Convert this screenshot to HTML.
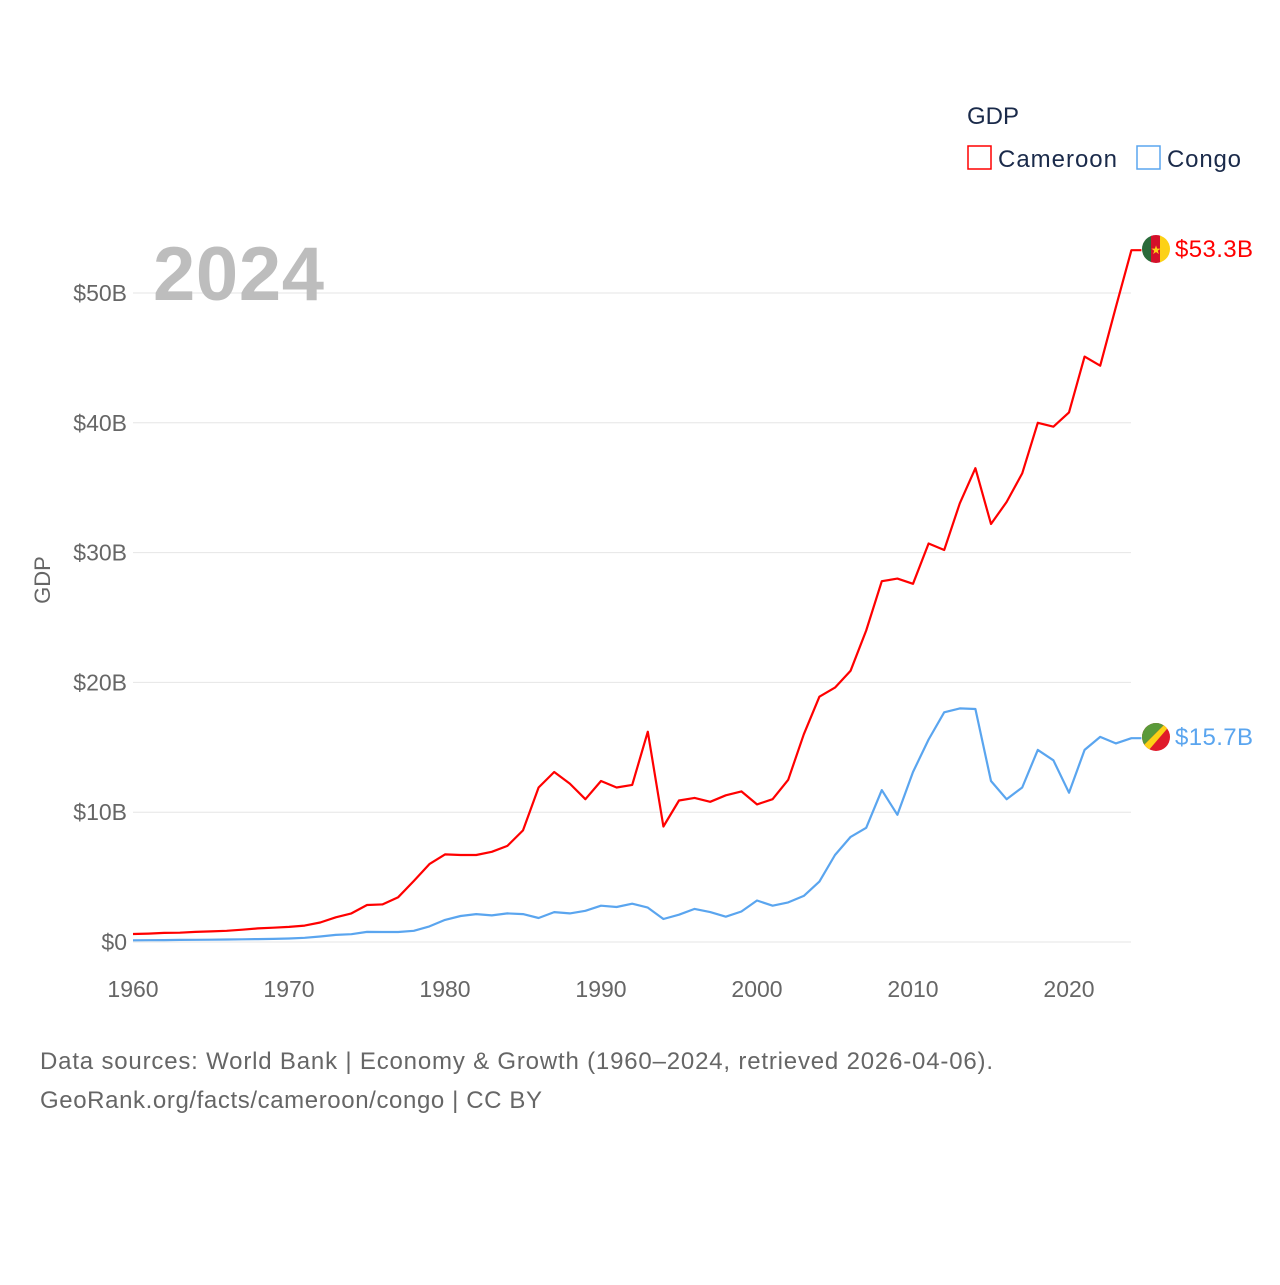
<!DOCTYPE html>
<html><head><meta charset="utf-8"><style>
body{margin:0;background:#fff;font-family:"Liberation Sans",sans-serif}
svg text{font-family:"Liberation Sans",sans-serif}
</style></head><body>
<svg id="chart" width="1280" height="1280" viewBox="0 0 1280 1280">
<rect width="1280" height="1280" fill="#fff"/>
<g id="grid"></g>
<g id="xticks"></g>
<g id="yticks"></g>
<text x="153" y="300" font-size="76" font-weight="bold" fill="#bdbdbd" textLength="171">2024</text>
<text transform="translate(50,580) rotate(-90)" text-anchor="middle" font-size="22" fill="#666">GDP</text>
<g id="series"></g>
<text x="967" y="124" font-size="24" fill="#1a2a4a">GDP</text>
<g>
<rect x="968" y="146" width="23" height="23" fill="none" stroke="#f00" stroke-width="1.5"/>
<text x="998" y="167" font-size="24" fill="#1a2a4a" textLength="119">Cameroon</text></g>
<g>
<rect x="1137" y="146" width="23" height="23" fill="none" stroke="#5aa5ef" stroke-width="1.5"/>
<text x="1167" y="167" font-size="24" fill="#1a2a4a" textLength="74">Congo</text></g>
<g>
<clipPath id="c1"><circle cx="1156" cy="249" r="14"/></clipPath>
<g clip-path="url(#c1)"><rect x="1142" y="235" width="10" height="28" fill="#2a6a3a"/><rect x="1151" y="235" width="10" height="28" fill="#d4102a"/><rect x="1160" y="235" width="10" height="28" fill="#fcd116"/></g>
<text x="1156" y="254" font-size="12" text-anchor="middle" fill="#fcd116">★</text></g>
<g>
<clipPath id="c2"><circle cx="1156" cy="737" r="14"/></clipPath>
<g clip-path="url(#c2)"><rect x="1142" y="723" width="28" height="28" fill="#e01a2a"/><polygon points="1142,723 1166,723 1142,747" fill="#5a9a3a"/><polygon points="1166,723 1172,723 1148,751 1142,751 1142,747" fill="#fcd116"/></g></g>
<text x="1175" y="257" font-size="24" fill="#f00" textLength="78">$53.3B</text>
<text x="1175" y="745" font-size="24" fill="#5aa5ef" textLength="78">$15.7B</text>
<text x="40" y="1069" font-size="24" fill="#666" textLength="953">Data sources: World Bank | Economy &amp; Growth (1960–2024, retrieved 2026-04-06).</text>
<text x="40" y="1108" font-size="24" fill="#666" textLength="502">GeoRank.org/facts/cameroon/congo | CC BY</text>
</svg>
<script>
const years=[];for(let y=1960;y<=2024;y++)years.push(y);
const cameroon=[0.62,0.65,0.7,0.72,0.78,0.82,0.86,0.95,1.05,1.1,1.16,1.26,1.5,1.9,2.2,2.85,2.9,3.45,4.7,6.0,6.75,6.7,6.7,6.95,7.4,8.6,11.9,13.1,12.2,11.0,12.4,11.9,12.1,16.2,8.9,10.9,11.1,10.8,11.3,11.6,10.6,11.0,12.5,16.0,18.9,19.6,20.9,24.0,27.8,28.0,27.6,30.7,30.2,33.8,36.5,32.2,33.9,36.1,40.0,39.7,40.8,45.1,44.4,48.9,53.3];
const congo=[0.13,0.14,0.15,0.16,0.17,0.18,0.19,0.21,0.22,0.24,0.27,0.32,0.42,0.55,0.6,0.78,0.77,0.77,0.86,1.2,1.7,2.0,2.15,2.05,2.2,2.15,1.85,2.3,2.2,2.4,2.8,2.7,2.95,2.65,1.77,2.1,2.55,2.3,1.95,2.35,3.2,2.8,3.05,3.55,4.65,6.7,8.1,8.8,11.7,9.8,13.1,15.6,17.7,18.0,17.95,12.4,11.0,11.9,14.8,14.0,11.5,14.8,15.8,15.3,15.7];
const yTicks=[0,10,20,30,40,50];
const yTickLabels=["$0","$10B","$20B","$30B","$40B","$50B"];
const xTicks=[1960,1970,1980,1990,2000,2010,2020];
const NS="http://www.w3.org/2000/svg";
const X=y=>133+(y-1960)*15.6;
const Y=v=>942-v*12.98;
function mk(t,a,p){const e=document.createElementNS(NS,t);for(const k in a)e.setAttribute(k,a[k]);p.appendChild(e);return e;}
const grid=document.getElementById('grid'),yt=document.getElementById('yticks'),xt=document.getElementById('xticks'),ser=document.getElementById('series');
yTicks.forEach((v,i)=>{
const l=mk('line',{x1:133,x2:1131,y1:Y(v),y2:Y(v),stroke:'#e6e6e6','stroke-width':1},grid);


const t=mk('text',{x:127,y:Y(v)+8,'text-anchor':'end','font-size':23,fill:'#666'},yt);
t.textContent=yTickLabels[i];


});
xTicks.forEach(v=>{
const t=mk('text',{x:X(v),y:997,'text-anchor':'middle','font-size':23,fill:'#666'},xt);
t.textContent=v;


});
function line(data,color,name){
let d=data.map((v,i)=>(i?'L':'M')+X(years[i]).toFixed(1)+','+Y(v).toFixed(1)).join('');
d+='L'+(X(2024)+10)+','+Y(data[data.length-1]).toFixed(1);
const p=mk('path',{d:d,fill:'none',stroke:color,'stroke-width':2.2,'stroke-linejoin':'round'},ser);


}
line(cameroon,'#f00','line-cameroon');
line(congo,'#5aa5ef','line-congo');
</script>
</body></html>
